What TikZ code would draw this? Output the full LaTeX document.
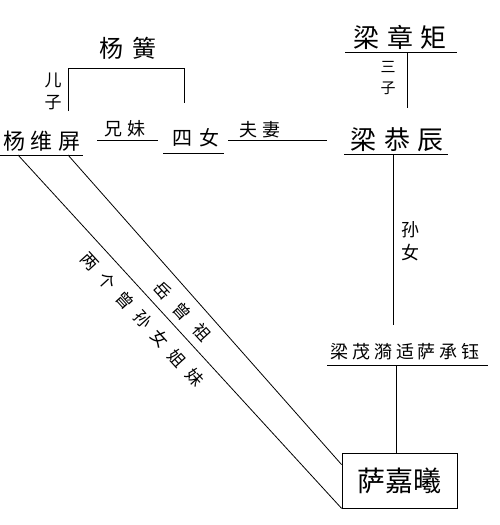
\documentclass[tikz,border=0pt]{standalone}
\usepackage{fontspec}
\newfontfamily\cjk{Noto Sans CJK SC}
\newcommand{\gp}[1][0.3em]{\hspace{#1}}
\begin{document}
\begin{tikzpicture}[x=1pt,y=-1pt,line width=0.8pt,
  lbl/.style={inner sep=0pt,font=\cjk\fontsize{#1}{#1}\selectfont},
  lbl/.default=18,
  rot/.style={inner sep=0pt,rotate=-47.6,font=\cjk\fontsize{17}{17}\selectfont}]
\useasboundingbox (0,0) rectangle (500,525);
% names
\node[lbl=24] (yh) at (128,48) {杨\gp[0.35em]簧};
\node[lbl=22] (ywp) at (42,141) {杨\gp[0.25em]维\gp[0.25em]屏};
\node[lbl=18] (xm) at (125,129) {兄\gp[0.3em]妹};
\node[lbl=20] (sn) at (196,138) {四\gp[0.35em]女};
\node[lbl=18] (fq) at (260,130) {夫\gp[0.3em]妻};
\node[lbl=26] (lzj) at (400,37) {梁\gp{}章\gp{}矩};
\node[lbl=26] (lgc) at (397,140) {梁\gp{}恭\gp{}辰};
\node[lbl=18] (lmy) at (405,352) {梁\gp[0.22em]茂\gp[0.22em]漪\gp[0.22em]适\gp[0.22em]萨\gp[0.22em]承\gp[0.22em]钰};
\node[draw,inner sep=0pt,minimum width=115pt,minimum height=55pt,font=\cjk\fontsize{28}{28}\selectfont] (sjx) at (399.5,480.5) {萨嘉曦};
% small labels
\node[lbl=17] (er1) at (53,80) {儿};
\node[lbl=17] (er2) at (53,103) {子};
\node[lbl=15] (sz1) at (388,67) {三};
\node[lbl=15] (sz2) at (388,88) {子};
\node[lbl=18] (sv1) at (410,230) {孙};
\node[lbl=18] (sv2) at (410,253) {女};
% underlines
\coordinate (u1a) at (0,155); \coordinate (u1b) at (83,155);
\coordinate (u2a) at (97,140); \coordinate (u2b) at (158,140);
\coordinate (u3a) at (163,153); \coordinate (u3b) at (224,153);
\coordinate (u4a) at (228,140); \coordinate (u4b) at (327,140);
\coordinate (u5a) at (345,52); \coordinate (u5b) at (457,52);
\coordinate (u6a) at (344,154); \coordinate (u6b) at (448,154);
\coordinate (u7a) at (327,365); \coordinate (u7b) at (488,365);
\foreach \a/\b in {u1a/u1b,u2a/u2b,u3a/u3b,u4a/u4b,u5a/u5b,u6a/u6b,u7a/u7b}
  \draw (\a) -- (\b);
% bracket
\coordinate (b1) at (68,111); \coordinate (b3) at (184,68); \coordinate (b4) at (184,103);
\draw (b1) |- (b3) -- (b4);
% verticals
\coordinate (v1a) at (407,52); \coordinate (v1b) at (407,108);
\draw (v1a) -- (v1b);
\coordinate (v2a) at (393,154); \coordinate (v2b) at (393,325);
\draw (v2a) -- (v2b);
\coordinate (v3a) at (396,365);
\draw (v3a) -- (sjx.north -| v3a);
% diagonals
\coordinate (d1) at (18,155); \coordinate (d2) at (68,155);
\draw (d1) -- (sjx.south west);
\draw (d2) -- ([yshift=-12pt]sjx.north west);
% rotated labels
\foreach \c [count=\i from 0] in {两,个,曾,孙,女,姐,妹}
  \node[rot] (ra\i) at ({90+17.5*\i},{262+19.2*\i}) {\c};
\foreach \c [count=\i from 0] in {岳,曾,祖}
  \node[rot] (rb\i) at ({163+19.5*\i},{290+21*\i}) {\c};
\end{tikzpicture}
\end{document}
